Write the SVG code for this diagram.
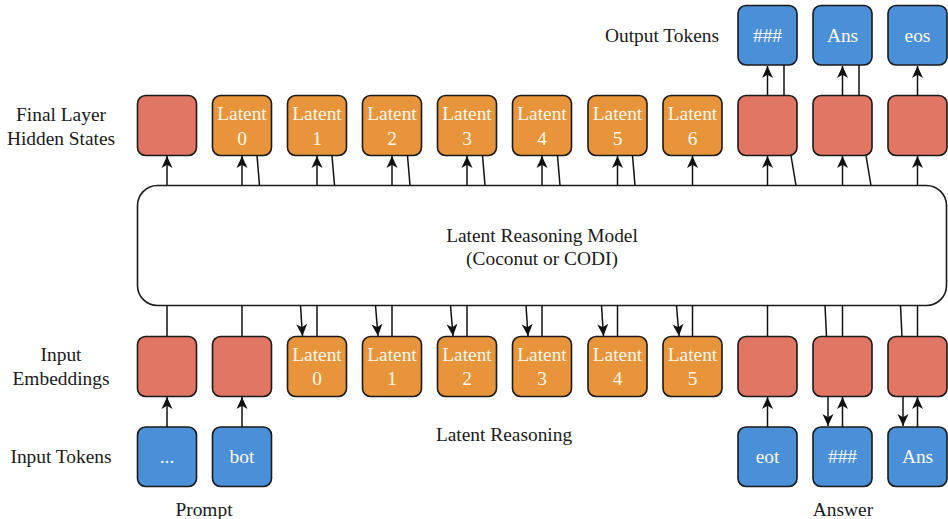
<svg xmlns="http://www.w3.org/2000/svg" width="948" height="519" viewBox="0 0 948 519">
<style>
text{font-family:"Liberation Serif","Times New Roman",serif;font-size:19.4px;text-anchor:middle}
.lbl{fill:#1a1a1a}
.in{fill:#FFF8EC}
.hid{fill:#E07663;stroke:#1a1a1a;stroke-width:1.6}
.lat{fill:#E8943A;stroke:#1a1a1a;stroke-width:1.6}
.tok{fill:#4A90D9;stroke:#1a1a1a;stroke-width:1.6}
.model{fill:#ffffff;stroke:#1a1a1a;stroke-width:1.6}
.c line{stroke:#111;stroke-width:1.5;fill:none}
.a{marker-end:url(#ah)}
</style>
<defs>
<marker id="ah" viewBox="0 0 13 13" markerWidth="13" markerHeight="13" refX="12" refY="6.5" orient="auto" markerUnits="userSpaceOnUse">
<path d="M12,6.5 L0,1 L3.3,6.5 L0,12 Z" fill="#111"/>
</marker>
</defs>
<rect width="948" height="519" fill="#ffffff"/>

<g id="labels">
<text class="lbl" x="662" y="42">Output Tokens</text>
<text class="lbl" x="61" y="121">Final Layer</text>
<text class="lbl" x="61" y="145">Hidden States</text>
<text class="lbl" x="61" y="361">Input</text>
<text class="lbl" x="61" y="385">Embeddings</text>
<text class="lbl" x="61" y="463">Input Tokens</text>
<text class="lbl" x="504" y="441">Latent Reasoning</text>
<text class="lbl" x="204" y="516">Prompt</text>
<text class="lbl" x="843" y="516">Answer</text>
</g>

<g id="model">
<rect class="model" x="137.5" y="185.5" width="809" height="120" rx="20"/>
<text class="lbl" x="542" y="242">Latent Reasoning Model</text>
<text class="lbl" x="542" y="265">(Coconut or CODI)</text>
</g>

<g id="out-hash"><rect class="tok" x="738" y="5.5" width="59" height="59.5" rx="8"/><text class="in" x="767.5" y="42">###</text></g>
<g id="out-ans"><rect class="tok" x="813" y="5.5" width="59" height="59.5" rx="8"/><text class="in" x="842.5" y="42">Ans</text></g>
<g id="out-eos"><rect class="tok" x="888" y="5.5" width="59" height="59.5" rx="8"/><text class="in" x="917.5" y="42">eos</text></g>

<g id="hid-0"><rect class="hid" x="137.5" y="95.5" width="59" height="60" rx="8"/></g>
<g id="hid-lat0"><rect class="lat" x="212.5" y="95.5" width="59" height="60" rx="8"/><text class="in" x="242" y="120">Latent</text><text class="in" x="242" y="145">0</text></g>
<g id="hid-lat1"><rect class="lat" x="287.5" y="95.5" width="59" height="60" rx="8"/><text class="in" x="317" y="120">Latent</text><text class="in" x="317" y="145">1</text></g>
<g id="hid-lat2"><rect class="lat" x="362.5" y="95.5" width="59" height="60" rx="8"/><text class="in" x="392" y="120">Latent</text><text class="in" x="392" y="145">2</text></g>
<g id="hid-lat3"><rect class="lat" x="437.5" y="95.5" width="59" height="60" rx="8"/><text class="in" x="467" y="120">Latent</text><text class="in" x="467" y="145">3</text></g>
<g id="hid-lat4"><rect class="lat" x="512.5" y="95.5" width="59" height="60" rx="8"/><text class="in" x="542" y="120">Latent</text><text class="in" x="542" y="145">4</text></g>
<g id="hid-lat5"><rect class="lat" x="588" y="95.5" width="59" height="60" rx="8"/><text class="in" x="617.5" y="120">Latent</text><text class="in" x="617.5" y="145">5</text></g>
<g id="hid-lat6"><rect class="lat" x="663" y="95.5" width="59" height="60" rx="8"/><text class="in" x="692.5" y="120">Latent</text><text class="in" x="692.5" y="145">6</text></g>
<g id="hid-8"><rect class="hid" x="738" y="95.5" width="59" height="60" rx="8"/></g>
<g id="hid-9"><rect class="hid" x="813" y="95.5" width="59" height="60" rx="8"/></g>
<g id="hid-10"><rect class="hid" x="888" y="95.5" width="59" height="60" rx="8"/></g>

<g id="emb-0"><rect class="hid" x="137.5" y="336.5" width="59" height="60" rx="8"/></g>
<g id="emb-1"><rect class="hid" x="212.5" y="336.5" width="59" height="60" rx="8"/></g>
<g id="emb-lat0"><rect class="lat" x="287.5" y="336.5" width="59" height="60" rx="8"/><text class="in" x="317" y="361">Latent</text><text class="in" x="317" y="385">0</text></g>
<g id="emb-lat1"><rect class="lat" x="362.5" y="336.5" width="59" height="60" rx="8"/><text class="in" x="392" y="361">Latent</text><text class="in" x="392" y="385">1</text></g>
<g id="emb-lat2"><rect class="lat" x="437.5" y="336.5" width="59" height="60" rx="8"/><text class="in" x="467" y="361">Latent</text><text class="in" x="467" y="385">2</text></g>
<g id="emb-lat3"><rect class="lat" x="512.5" y="336.5" width="59" height="60" rx="8"/><text class="in" x="542" y="361">Latent</text><text class="in" x="542" y="385">3</text></g>
<g id="emb-lat4"><rect class="lat" x="588" y="336.5" width="59" height="60" rx="8"/><text class="in" x="617.5" y="361">Latent</text><text class="in" x="617.5" y="385">4</text></g>
<g id="emb-lat5"><rect class="lat" x="663" y="336.5" width="59" height="60" rx="8"/><text class="in" x="692.5" y="361">Latent</text><text class="in" x="692.5" y="385">5</text></g>
<g id="emb-8"><rect class="hid" x="738" y="336.5" width="59" height="60" rx="8"/></g>
<g id="emb-9"><rect class="hid" x="813" y="336.5" width="59" height="60" rx="8"/></g>
<g id="emb-10"><rect class="hid" x="888" y="336.5" width="59" height="60" rx="8"/></g>

<g id="tok-dots"><rect class="tok" x="137.5" y="427" width="59" height="59.5" rx="8"/><text class="in" x="167" y="463">...</text></g>
<g id="tok-bot"><rect class="tok" x="212.5" y="427" width="59" height="59.5" rx="8"/><text class="in" x="242" y="463">bot</text></g>
<g id="tok-eot"><rect class="tok" x="738" y="427" width="59" height="59.5" rx="8"/><text class="in" x="767.5" y="463">eot</text></g>
<g id="tok-hash"><rect class="tok" x="813" y="427" width="59" height="59.5" rx="8"/><text class="in" x="842.5" y="463">###</text></g>
<g id="tok-ans"><rect class="tok" x="888" y="427" width="59" height="59.5" rx="8"/><text class="in" x="917.5" y="463">Ans</text></g>

<g id="connectors" class="c">
<!-- model to hidden states -->
<line class="a" x1="167" y1="185.5" x2="167" y2="156"/>
<line class="a" x1="242" y1="185.5" x2="242" y2="156"/>
<line class="a" x1="317" y1="185.5" x2="317" y2="156"/>
<line class="a" x1="392" y1="185.5" x2="392" y2="156"/>
<line class="a" x1="467" y1="185.5" x2="467" y2="156"/>
<line class="a" x1="542" y1="185.5" x2="542" y2="156"/>
<line class="a" x1="617.5" y1="185.5" x2="617.5" y2="156"/>
<line class="a" x1="692.5" y1="185.5" x2="692.5" y2="156"/>
<line class="a" x1="767.5" y1="185.5" x2="767.5" y2="156"/>
<line class="a" x1="842.5" y1="185.5" x2="842.5" y2="156"/>
<line class="a" x1="917.5" y1="185.5" x2="917.5" y2="156"/>
<!-- latent feedback into model -->
<line x1="257" y1="155.5" x2="259.5" y2="185.5"/>
<line x1="332" y1="155.5" x2="334.5" y2="185.5"/>
<line x1="407.5" y1="155.5" x2="410" y2="185.5"/>
<line x1="482.5" y1="155.5" x2="485" y2="185.5"/>
<line x1="557.5" y1="155.5" x2="560" y2="185.5"/>
<line x1="632.5" y1="155.5" x2="635" y2="185.5"/>
<line x1="791" y1="155.5" x2="796" y2="185.5"/>
<line x1="866" y1="155.5" x2="871" y2="185.5"/>
<!-- hidden to output tokens -->
<line class="a" x1="767.5" y1="95.5" x2="767.5" y2="66"/>
<line class="a" x1="842.5" y1="95.5" x2="842.5" y2="66"/>
<line class="a" x1="917.5" y1="95.5" x2="917.5" y2="66"/>
<line x1="784" y1="65" x2="784" y2="95.5"/>
<line x1="859" y1="65" x2="859" y2="95.5"/>
<!-- embeddings into model -->
<line x1="167" y1="336.5" x2="167" y2="305.5"/>
<line x1="242" y1="336.5" x2="242" y2="305.5"/>
<line x1="317" y1="336.5" x2="317" y2="305.5"/>
<line x1="392" y1="336.5" x2="392" y2="305.5"/>
<line x1="467" y1="336.5" x2="467" y2="305.5"/>
<line x1="542" y1="336.5" x2="542" y2="305.5"/>
<line x1="617.5" y1="336.5" x2="617.5" y2="305.5"/>
<line x1="692.5" y1="336.5" x2="692.5" y2="305.5"/>
<line x1="767.5" y1="336.5" x2="767.5" y2="305.5"/>
<line x1="842.5" y1="336.5" x2="842.5" y2="305.5"/>
<line x1="917.5" y1="336.5" x2="917.5" y2="305.5"/>
<!-- latent feedback out of model -->
<line class="a" x1="300.5" y1="305.5" x2="302.5" y2="336"/>
<line class="a" x1="375.5" y1="305.5" x2="378" y2="336"/>
<line class="a" x1="450.5" y1="305.5" x2="453" y2="336"/>
<line class="a" x1="526" y1="305.5" x2="528" y2="336"/>
<line class="a" x1="601.5" y1="305.5" x2="603.5" y2="336"/>
<line class="a" x1="676.5" y1="305.5" x2="679" y2="336"/>
<line x1="825" y1="305.5" x2="826.5" y2="336.5"/>
<line x1="900.5" y1="305.5" x2="902" y2="336.5"/>
<!-- tokens to embeddings -->
<line class="a" x1="167" y1="427" x2="167" y2="397"/>
<line class="a" x1="242" y1="427" x2="242" y2="397"/>
<line class="a" x1="767.5" y1="427" x2="767.5" y2="397"/>
<line class="a" x1="842.5" y1="427" x2="842.5" y2="397"/>
<line class="a" x1="917.5" y1="427" x2="917.5" y2="397"/>
<line class="a" x1="828" y1="396.5" x2="828" y2="426"/>
<line class="a" x1="903" y1="396.5" x2="903" y2="426"/>
</g>
</svg>
